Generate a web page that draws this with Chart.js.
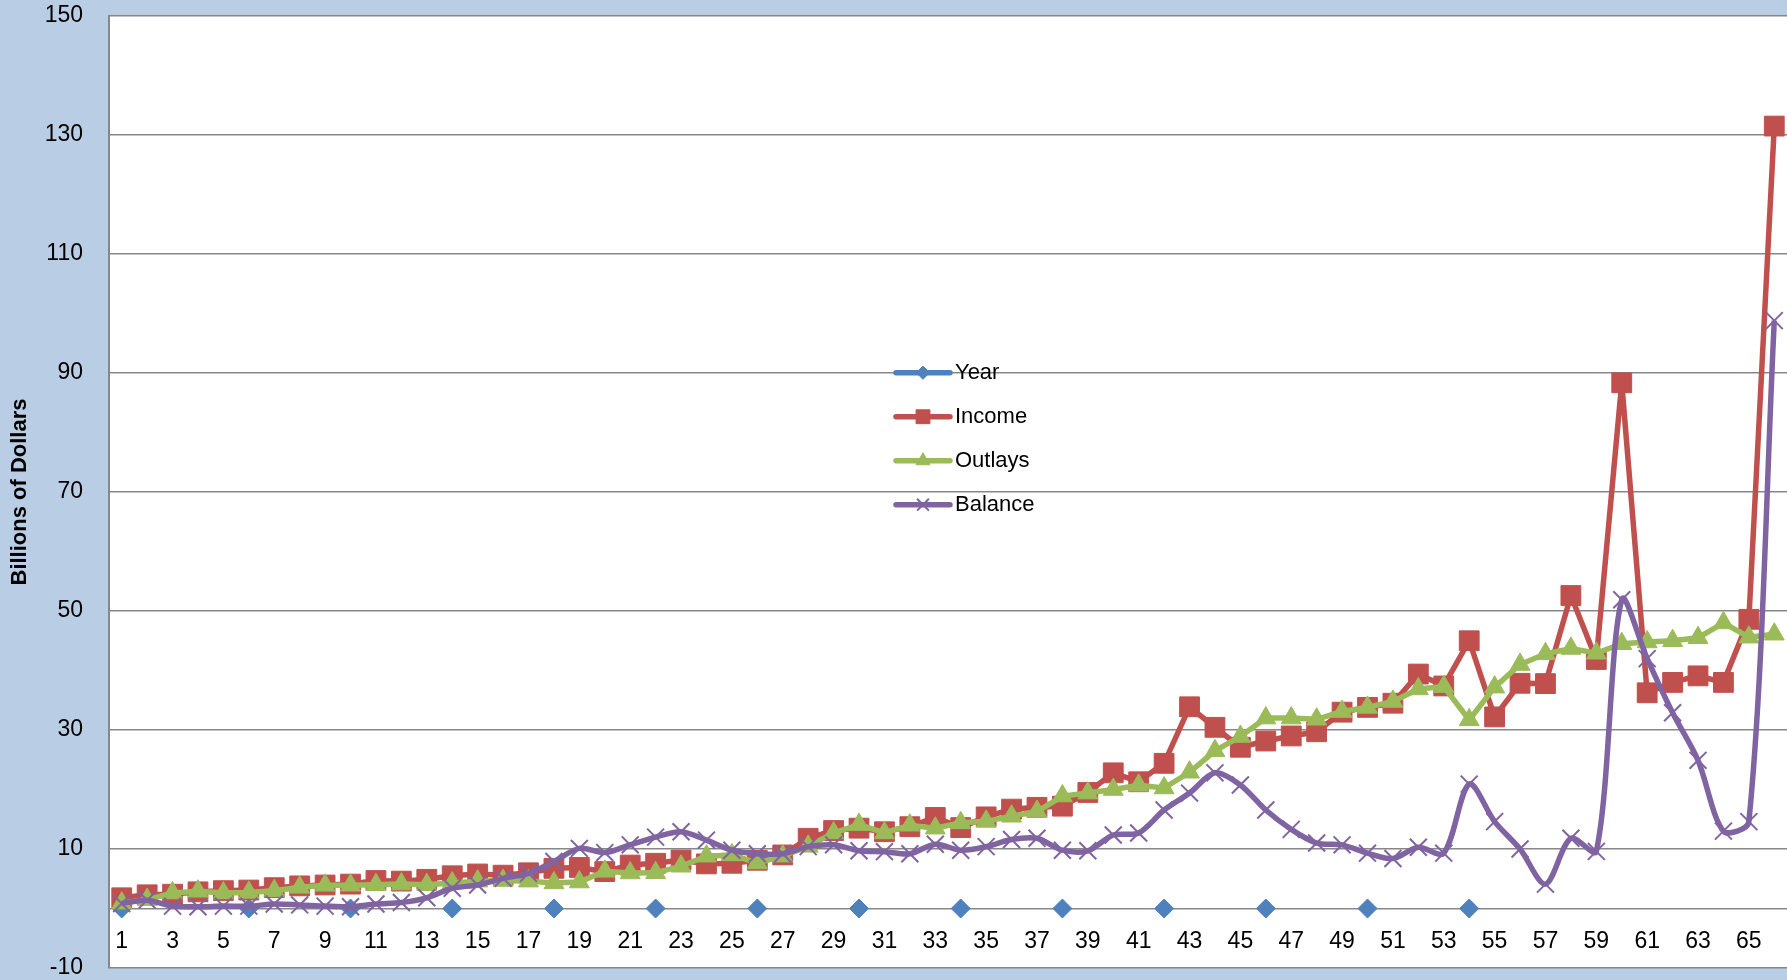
<!DOCTYPE html>
<html>
<head>
<meta charset="utf-8">
<title>Billions of Dollars</title>
<script src="https://cdn.jsdelivr.net/npm/chart.js@4.4.1/dist/chart.umd.min.js"></script>
<style>
  html, body { margin: 0; padding: 0; background: #b9cde5; }
  canvas { display: block; }
</style>
</head>
<body>
<canvas id="chart" width="1787" height="980"></canvas>
<script>
const categories = [
  "1", "2", "3", "4", "5", "6", "7", "8", "9", "10",
  "11", "12", "13", "14", "15", "16", "17", "18", "19", "20",
  "21", "22", "23", "24", "25", "26", "27", "28", "29", "30",
  "31", "32", "33", "34", "35", "36", "37", "38", "39", "40",
  "41", "42", "43", "44", "45", "46", "47", "48", "49", "50",
  "51", "52", "53", "54", "55", "56", "57", "58", "59", "60",
  "61", "62", "63", "64", "65", "66",
];

const yearValues = [
  0, null, null, null, null, 0, null, null, null, 0,
  null, null, null, 0, null, null, null, 0, null, null,
  null, 0, null, null, null, 0, null, null, null, 0,
  null, null, null, 0, null, null, null, 0, null, null,
  null, 0, null, null, null, 0, null, null, null, 0,
  null, null, null, 0, null, null, null, null, null, null,
  null, null, null, null, null, null,
];

const incomeValues = [
  1.8, 2.3, 2.4, 2.8, 3.0, 3.1, 3.5, 3.8, 3.95, 4.1,
  4.7, 4.6, 4.9, 5.5, 5.8, 5.6, 6.0, 6.75, 6.9, 6.2,
  7.3, 7.6, 8.15, 7.5, 7.6, 8.1, 9.0, 11.8, 13.1, 13.5,
  12.9, 13.75, 15.3, 13.6, 15.4, 16.7, 17.0, 17.2, 19.5, 22.8,
  21.3, 24.4, 33.9, 30.45, 27.1, 28.15, 29.0, 29.7, 33.0, 33.8,
  34.5, 39.4, 37.4, 45.0, 32.2, 37.85, 37.8, 52.6, 41.85, 88.35,
  36.25, 38.0, 39.1, 38.0, 48.6, 131.5,
];

const outlayValues = [
  0.9, 1.5, 2.6, 2.9, 2.6, 2.7, 3.0, 3.56, 3.9, 3.9,
  4.0, 4.1, 4.0, 4.3, 4.6, 4.7, 4.6, 4.3, 4.45, 6.25,
  5.97, 6.0, 7.1, 8.8, 9.0, 7.65, 8.8, 10.45, 12.7, 14.1,
  12.7, 14.0, 13.5, 14.4, 14.65, 15.5, 16.3, 18.9, 19.4, 20.0,
  20.7, 20.25, 22.9, 26.5, 28.9, 32.0, 32.0, 31.8, 33.1, 33.8,
  34.8, 36.9, 37.3, 31.7, 37.2, 41.0, 42.8, 43.7, 42.9, 44.5,
  44.8, 45.0, 45.5, 48.0, 45.6, 46.1,
];

const balanceValues = [
  0.85, 1.4, 0.4, 0.3, 0.4, 0.4, 0.75, 0.6, 0.4, 0.3,
  0.75, 1.0, 1.8, 3.4, 3.95, 5.07, 5.9, 7.9, 10.1, 9.4,
  10.7, 12.0, 12.9, 11.5, 9.8, 9.2, 9.2, 10.4, 10.7, 9.7,
  9.55, 9.2, 10.8, 9.8, 10.4, 11.6, 11.8, 9.8, 9.7, 12.35,
  12.7, 16.55, 19.4, 22.8, 20.75, 16.55, 13.3, 11.0, 10.7, 9.3,
  8.4, 10.3, 9.3, 20.9, 14.6, 10.0, 4.1, 11.8, 9.6, 51.9,
  42.0, 32.9, 24.9, 13.0, 14.6, 98.8,
];

const yTicks = [-10, 10, 30, 50, 70, 90, 110, 130, 150];

const GRID = "#878787";
const FONT = '"Liberation Sans", Arial, sans-serif';
const NONE = "rgba(0,0,0,0)";

Chart.defaults.font.family = FONT;
Chart.defaults.color = "#000";

// white plot area on the blue page
const plotBackground = {
  id: "plotBackground",
  beforeDraw(chart) {
    const { ctx, chartArea: a } = chart;
    ctx.save();
    ctx.fillStyle = "#ffffff";
    ctx.fillRect(a.left, a.top, a.right - a.left, a.bottom - a.top);
    ctx.restore();
  },
};

// legend sits inside the plot, line + marker like Excel
const insideLegend = {
  id: "insideLegend",
  afterDatasetsDraw(chart) {
    const { ctx, chartArea: a } = chart;
    const x = a.left + (a.right - a.left) * 0.469;
    let y = a.top + (a.bottom - a.top) * 0.3747;
    ctx.save();
    chart.data.datasets.forEach((ds) => {
      ctx.strokeStyle = ds.borderColor;
      ctx.lineWidth = 5.5;
      ctx.lineCap = "round";
      ctx.beginPath();
      ctx.moveTo(x, y);
      ctx.lineTo(x + 54, y);
      ctx.stroke();

      ctx.fillStyle = ds.pointBackgroundColor;
      ctx.strokeStyle = ds.pointBorderColor;
      ctx.lineWidth = ds.pointBorderWidth;
      ctx.lineCap = "butt";
      Chart.helpers.drawPoint(
        ctx,
        { pointStyle: ds.pointStyle, radius: ds.pointRadius * 0.7, rotation: 0, borderWidth: ds.pointBorderWidth },
        x + 27,
        y
      );

      ctx.fillStyle = "#000";
      ctx.font = "22px " + FONT;
      ctx.textBaseline = "middle";
      ctx.textAlign = "left";
      ctx.fillText(ds.label, x + 59, y);
      y += 44;
    });
    ctx.restore();
  },
};

function series(label, data, color, style, radius, extra) {
  return Object.assign(
    {
      label,
      data,
      borderColor: color,
      backgroundColor: color,
      pointBackgroundColor: color,
      pointBorderColor: color,
      pointStyle: style,
      pointRadius: radius,
      pointHoverRadius: radius,
      pointBorderWidth: 1,
      borderWidth: 5.5,
      tension: 0,
      spanGaps: false,
      clip: false,
    },
    extra || {}
  );
}

new Chart(document.getElementById("chart"), {
  type: "line",
  data: {
    labels: categories,
    datasets: [
      series("Year", yearValues, "#4f81bd", "rectRot", 9.5, { order: 4 }),
      series("Income", incomeValues, "#c0504d", "rect", 14, { order: 3 }),
      series("Outlays", outlayValues, "#9bbb59", "triangle", 11.5, { order: 2 }),
      series("Balance", balanceValues, "#8064a2", "crossRot", 12, {
        order: 1,
        tension: 0.3,
        pointBorderWidth: 2,
      }),
    ],
  },
  options: {
    responsive: false,
    animation: false,
    layout: { autoPadding: false, padding: { top: 16, bottom: 12, left: 0, right: 0 } },
    plugins: {
      legend: { display: false },
      tooltip: { enabled: false },
    },
    scales: {
      x: {
        type: "category",
        position: { y: 0 },
        offset: true,
        // invisible tick marks push the labels down from the zero line
        grid: { display: true, drawOnChartArea: false, color: NONE, tickColor: NONE, drawTicks: true, tickLength: 22 },
        border: { display: true, color: GRID, width: 1.5 },
        ticks: {
          autoSkip: false,
          maxRotation: 0,
          padding: 0,
          font: { size: 23, lineHeight: 1 },
          callback: (value, index) => (index % 2 === 0 ? categories[index] : ""),
        },
      },
      y: {
        min: yTicks[0],
        max: yTicks[yTicks.length - 1],
        afterBuildTicks: (scale) => {
          scale.ticks = yTicks.map((v) => ({ value: v }));
        },
        afterFit: (scale) => {
          scale.width = 109;
        },
        grid: { color: GRID, lineWidth: 1.5, drawTicks: true, tickLength: 26, tickColor: NONE },
        border: { display: true, color: GRID, width: 2 },
        ticks: {
          padding: 0,
          font: { size: 23, lineHeight: 1 },
        },
        title: {
          display: true,
          text: "Billions of Dollars",
          font: { size: 22, weight: "bold" },
          padding: { top: 7, bottom: 0 },
        },
      },
    },
  },
  plugins: [plotBackground, insideLegend],
});
</script>
</body>
</html>
